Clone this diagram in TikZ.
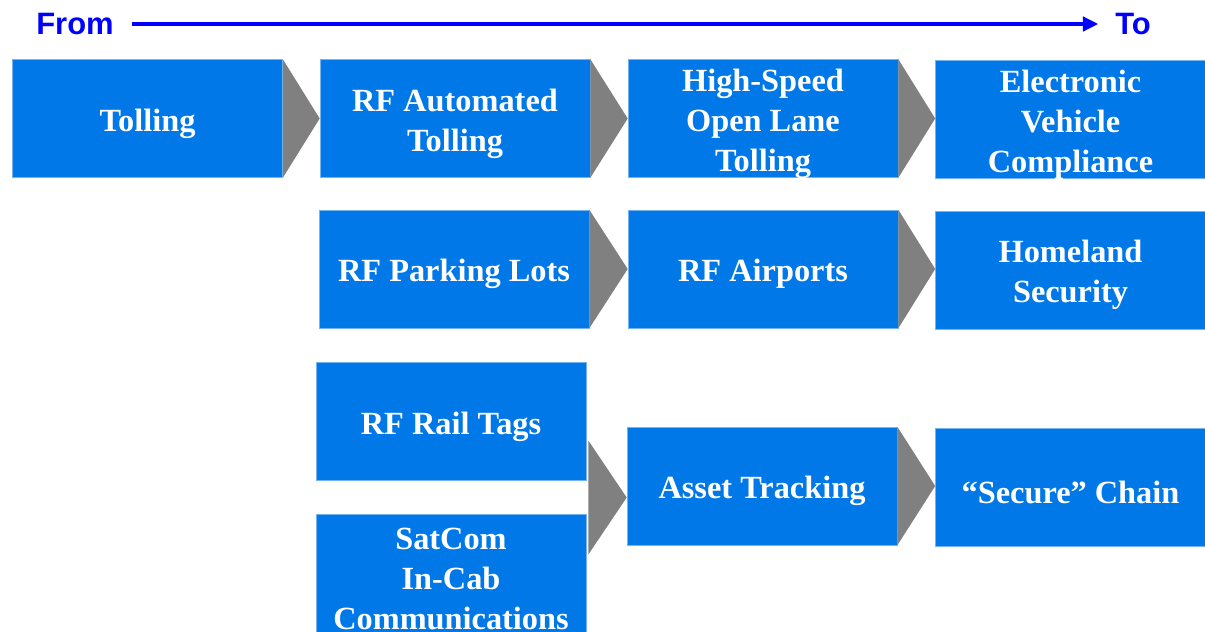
\documentclass[tikz,border=0pt]{standalone}
\usepackage{fontspec}
\setmainfont{Liberation Serif}
\setsansfont{Liberation Sans}
\usepackage{tikz}
\usetikzlibrary{calc,arrows.meta}
\definecolor{boxblue}{RGB}{0,120,232}
\definecolor{chevgray}{RGB}{128,128,128}
\definecolor{headblue}{RGB}{0,0,255}
\tikzset{stage/.style={fill=boxblue, draw=boxblue!55!white, line width=0.4pt,
    minimum width=6.75cm, minimum height=2.95cm, inner sep=0pt,
    label={[stagetext]center:#1}}}
\tikzset{stagetext/.style={text=white, font=\bfseries\fontsize{23}{28.5}\selectfont,
    align=center, inner sep=0pt, yshift=-0.13cm}}
\tikzset{chevron/.style={fill=chevgray}}
\tikzset{heading/.style={text=headblue, font=\sffamily\bfseries\fontsize{22}{26}\selectfont, inner sep=0pt}}

\begin{document}
\begin{tikzpicture}[x=0.025cm, y=-0.025cm]
    \useasboundingbox (0,0) rectangle (1205,632);

    \node[heading] at (75,24) (from){From};
    \node[heading] at (1133,24) (to){To};
    \draw [headblue, line width=2.2pt, shorten <=0.45cm, shorten >=0.42cm,
        -{Triangle[length=0.38cm,width=0.36cm]}] (from.east) -- (to.west);

    \node[stage={Tolling}] at (147.5,118.5) (tol){};
    \node[stage={RF Automated\\Tolling}] at (455,118.5) (rfat){};
    \node[stage={High-Speed\\Open Lane\\Tolling}] at (763,118.5) (hs){};
    \node[stage={Electronic\\Vehicle\\Compliance}] at (1070.5,119.5) (evc){};

    \node[stage={RF Parking Lots}] at (454,269) (rfpl){};
    \node[stage={RF Airports}] at (763,269) (rfap){};
    \node[stage={Homeland\\Security}] at (1070.5,270) (hom){};

    \node[stage={RF Rail Tags}] at (451,421.5) (rail){};
    \node[stage={SatCom\\In-Cab\\Communications}] at (451,573.5) (sat){};
    \node[stage={Asset Tracking}] at (762,486) (asset){};
    \node[stage={``Secure'' Chain}] at (1070.5,487.5) (sec){};

    \fill[chevron] (tol.north east) -- (tol.east -| rfat.west) -- (tol.south east) -- cycle;
    \fill[chevron] (rfat.north east) -- (rfat.east -| hs.west) -- (rfat.south east) -- cycle;
    \fill[chevron] (hs.north east) -- (hs.east -| evc.west) -- (hs.south east) -- cycle;

    \fill[chevron] (rfpl.north east) -- (rfpl.east -| rfap.west) -- (rfpl.south east) -- cycle;
    \fill[chevron] (rfap.north east) -- (rfap.east -| hom.west) -- (rfap.south east) -- cycle;

    % rail tags and satcom merge into one
    \coordinate (merge) at ($(rail.south east)!0.5!(sat.north east)$);
    \fill[chevron] ($(merge)+(2,-57)$) -- (merge -| asset.west) -- ($(merge)+(2,57)$) -- cycle;
    \fill[chevron] (asset.north east) -- (asset.east -| sec.west) -- (asset.south east) -- cycle;
  \end{tikzpicture}
\end{document}
